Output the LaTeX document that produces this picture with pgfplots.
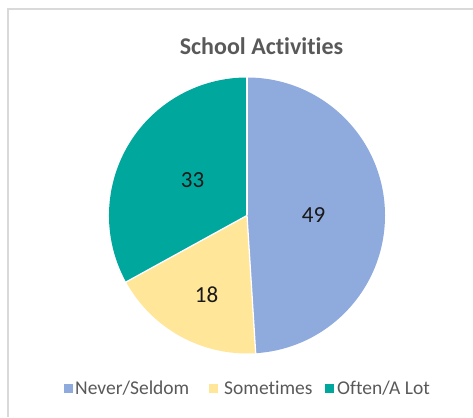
\documentclass[border=0pt]{standalone}
\usepackage{pgfplots}
\pgfplotsset{compat=1.18}
\usepackage{pgfplotstable}
\usepackage{fontspec}
\setmainfont{Carlito}[Ligatures=NoCommon]
\definecolor{cBlue}{HTML}{8FAADC}
\definecolor{cYellow}{HTML}{FFE699}
\definecolor{cTeal}{HTML}{00A79D}
\definecolor{cText}{HTML}{595959}
\definecolor{cFrame}{HTML}{D9D9D9}
\pgfplotstableread{
label value
Never 49
Sometimes 18
Often 33
}\piedata
\pgfplotstablegetelem{0}{value}\of\piedata \let\vA\pgfplotsretval%
\pgfplotstablegetelem{1}{value}\of\piedata \let\vB\pgfplotsretval%
\pgfplotstablegetelem{2}{value}\of\piedata \let\vC\pgfplotsretval%
\pgfmathsetmacro\total{\vA+\vB+\vC}%
\pgfmathsetmacro\aA{90}%
\pgfmathsetmacro\aB{90-\vA/\total*360}%
\pgfmathsetmacro\aC{\aB-\vB/\total*360}%
\pgfmathsetmacro\aD{\aC-\vC/\total*360}%
\begin{document}%
\begin{tikzpicture}
\begin{axis}[
  width=473pt, height=417pt, scale only axis,
  xmin=0, xmax=473, ymin=0, ymax=417,
  hide axis, clip=false, xtick=\empty, ytick=\empty,
  anchor=origin, at={(0,0)},
]
% frame
\draw[cFrame, line width=1.5pt] (axis cs:8,0) -- (axis cs:8,408) -- (axis cs:473,408);
% title
\node[anchor=base, text=cText, font=\fontsize{24}{28}\selectfont\bfseries] at (axis cs:261.5,362) {School Activities};
% slices
\fill[cBlue] (axis cs:247,201.5) -- ++(\aA:138pt) arc[start angle=\aA, end angle=\aB, radius=138pt] -- cycle;
\fill[cYellow] (axis cs:247,201.5) -- ++(\aB:138pt) arc[start angle=\aB, end angle=\aC, radius=138pt] -- cycle;
\fill[cTeal] (axis cs:247,201.5) -- ++(\aC:138pt) arc[start angle=\aC, end angle=\aD, radius=138pt] -- cycle;
\draw[white, line width=1.3pt] (axis cs:247,201.5) -- ++(\aA:138.5pt);
\draw[white, line width=1.3pt] (axis cs:247,201.5) -- ++(\aB:138.5pt);
\draw[white, line width=1.3pt] (axis cs:247,201.5) -- ++(\aC:138.5pt);
% data labels
\node[anchor=base, font=\fontsize{23}{27}\selectfont, text=black!90] at (axis cs:313.5,194) {\vA};
\node[anchor=base, font=\fontsize{23}{27}\selectfont, text=black!90] at (axis cs:206.5,114) {\vB};
\node[anchor=base, font=\fontsize{23}{27}\selectfont, text=black!90] at (axis cs:192.5,229) {\vC};
% legend
\fill[cBlue] (axis cs:64,24) rectangle (axis cs:72.5,32.5);
\node[anchor=base west, inner sep=0pt, text=cText, font=\fontsize{19.5}{22}\selectfont] at (axis cs:75,22.6) {Never/Seldom};
\fill[cYellow] (axis cs:209,24) rectangle (axis cs:217.5,32.5);
\node[anchor=base west, inner sep=0pt, text=cText, font=\fontsize{19.5}{22}\selectfont] at (axis cs:224,22.6) {Sometimes};
\fill[cTeal] (axis cs:325,24) rectangle (axis cs:333.5,32.5);
\node[anchor=base west, inner sep=0pt, text=cText, font=\fontsize{19.5}{22}\selectfont] at (axis cs:337,22.6) {Often/A Lot};
\end{axis}
\pgfresetboundingbox
\path[use as bounding box] (0,0) rectangle (473pt,417pt);
\end{tikzpicture}
\end{document}
